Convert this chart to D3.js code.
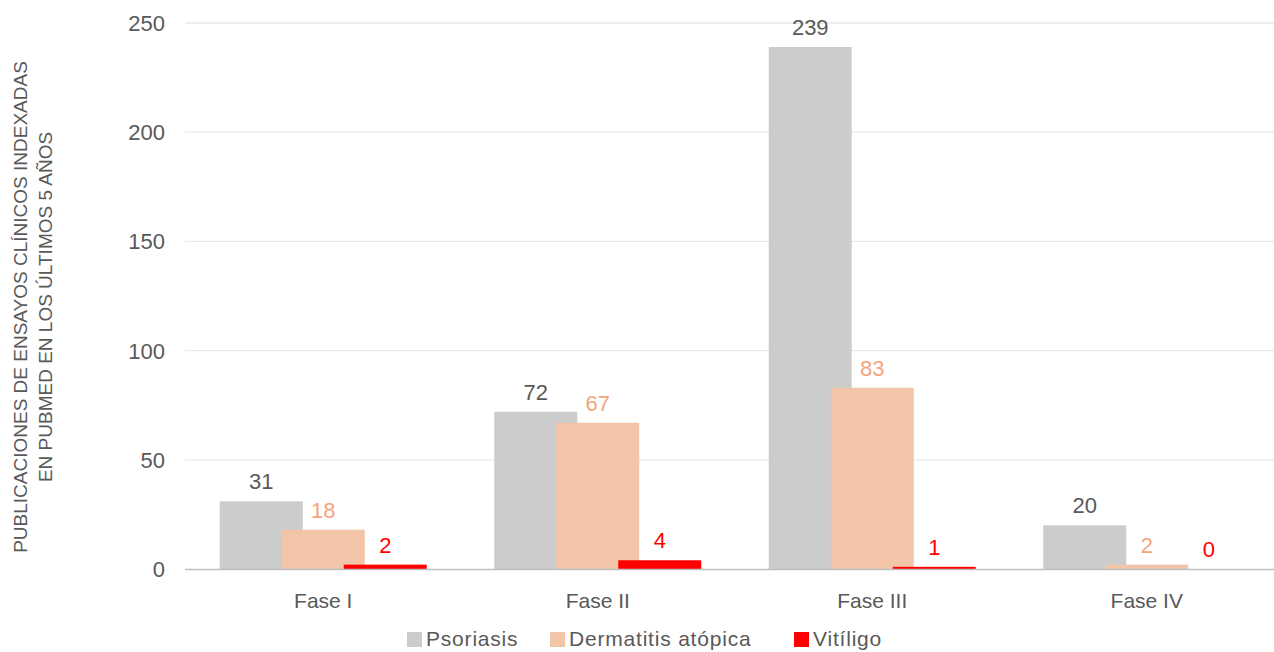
<!DOCTYPE html>
<html><head><meta charset="utf-8">
<script src="https://cdn.jsdelivr.net/npm/d3@7"></script>
<style>body{margin:0;background:#fff}svg{display:block;font-family:"Liberation Sans",Arial,sans-serif}</style>
</head><body><svg id="c" width="1274" height="652"></svg>
<script>
const categories = ["Fase I","Fase II","Fase III","Fase IV"];
const seriesNames = ["Psoriasis","Dermatitis atópica","Vitíligo"];
const psoriasis = [31,72,239,20];
const dermatitis = [18,67,83,2];
const vitiligo = [2,4,1,0];
const yTicks = [0,50,100,150,200,250];
const yTitle = ["PUBLICACIONES DE ENSAYOS CLÍNICOS INDEXADAS","EN PUBMED EN LOS  ÚLTIMOS 5 AÑOS"];

const seriesVals = [psoriasis, dermatitis, vitiligo];
const fills = ["#CCCCCC","#F2C4A8","#FF0000"];
const labelColors = ["#595959","#F4A47C","#FF0000"];

const svg = d3.select("#c");
const x = d3.scaleBand().domain(categories).range([186,1284]).paddingInner(0).paddingOuter(0);
const y = d3.scaleLinear().domain([0,250]).range([569,23]);
const barW = 83, step = 62;

// gridlines
svg.append("g").selectAll("line").data(yTicks.filter(t=>t>0)).join("line")
  .attr("x1",185).attr("x2",1274).attr("y1",d=>y(d)).attr("y2",d=>y(d))
  .attr("stroke","#E9E9E9").attr("stroke-width",1.3);

// y tick labels
svg.append("g").selectAll("text").data(yTicks).join("text")
  .attr("x",165).attr("y",d=>y(d)).attr("dy","0.36em").attr("text-anchor","end")
  .attr("font-size",22).attr("fill","#595959").text(d=>d);

// bars
seriesVals.forEach((vals,si)=>{
  const g = svg.append("g");
  categories.forEach((c,ci)=>{
    const cx = x(c) + x.bandwidth()/2 + (si-1)*step;
    const v = vals[ci];
    g.append("rect").attr("x",cx-barW/2).attr("width",barW)
      .attr("y",y(v)).attr("height",y(0)-y(v)).attr("fill",fills[si]);
    g.append("text").attr("x",cx).attr("y",y(v)-12).attr("text-anchor","middle")
      .attr("font-size",22).attr("fill",labelColors[si]).text(v);
  });
});

// baseline
svg.append("line").attr("x1",185).attr("x2",1274).attr("y1",y(0)+0.5).attr("y2",y(0)+0.5)
  .attr("stroke","#BFBFBF").attr("stroke-width",1.5);

// category labels
svg.append("g").selectAll("text").data(categories).join("text")
  .attr("x",d=>x(d)+x.bandwidth()/2).attr("y",608).attr("text-anchor","middle")
  .attr("font-size",21).attr("fill","#595959").text(d=>d);

// y title
const yt = svg.append("text").attr("transform","translate(20,307) rotate(-90)")
  .attr("text-anchor","middle").attr("font-size",19).attr("fill","#595959");
yTitle.forEach((t,i)=>yt.append("tspan").attr("x",0).attr("dy", i===0? "0.36em":"1.35em").text(t));

// legend
const legX = [407,550,794];
const leg = svg.append("g");
seriesNames.forEach((n,i)=>{
  leg.append("rect").attr("x",legX[i]).attr("y",632).attr("width",15).attr("height",15).attr("fill",fills[i]);
  leg.append("text").attr("x",legX[i]+19).attr("y",646)
    .attr("font-size",21).attr("letter-spacing",0.8).attr("fill","#595959").text(n);
});
</script></body></html>
